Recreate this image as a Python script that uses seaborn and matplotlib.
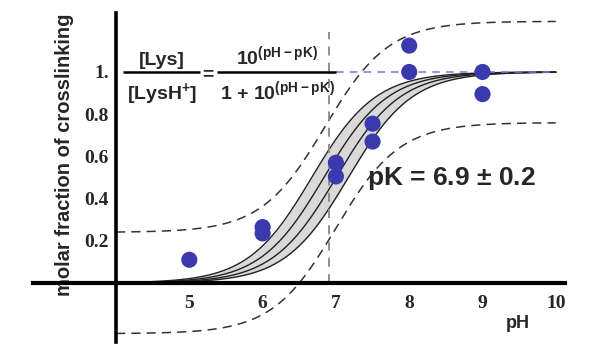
import numpy as np
import pandas as pd
import seaborn as sns
import matplotlib.pyplot as plt

# measured crosslinking fractions
ph_points = [5, 6, 6, 7, 7, 7.5, 7.5, 8, 8, 9, 9]
fraction_points = [0.11, 0.265, 0.235, 0.57, 0.505, 0.755, 0.67, 1.125, 1.0, 1.0, 0.895]

# fit: pK = 6.9 +/- 0.2, prediction band +/- 0.24
pk_fit = 6.92
pk_band = 0.25
pk_upper_pred = 6.85
pk_lower_pred = 7.0
pred_offset = 0.24

x_ticks = [5, 6, 7, 8, 9, 10]
y_ticks = [0.2, 0.4, 0.6, 0.8, 1.0]
y_tick_labels = ["0.2", "0.4", "0.6", "0.8", "1."]


def frac(ph, pk):
    r = 10 ** (np.asarray(ph) - pk)
    return r / (1 + r)


sns.set_style("white")
plt.rcParams["font.family"] = ["Liberation Sans", "DejaVu Sans"]
plt.rcParams["mathtext.fontset"] = "custom"
plt.rcParams["mathtext.rm"] = "Liberation Sans:bold"
plt.rcParams["mathtext.bf"] = "Liberation Sans:bold"

fig = plt.figure(figsize=(6, 3.5), dpi=100)
ax = fig.add_axes([0, 0, 1, 1])

ph_grid = np.linspace(4.0, 10.0, 400)
df = pd.DataFrame({"pH": ph_grid, "fit": frac(ph_grid, pk_fit)})

# confidence band of the fit
lo = frac(ph_grid, pk_fit + pk_band)
hi = frac(ph_grid, pk_fit - pk_band)
ax.fill_between(ph_grid, lo, hi, color="#d9d9d9", lw=0, zorder=1)
for pk in [pk_fit - pk_band, pk_fit - pk_band / 3, pk_fit + pk_band / 3, pk_fit + pk_band]:
    ax.plot(ph_grid, frac(ph_grid, pk), color="#222222", lw=1.0, zorder=2)

# prediction band (dashed)
ax.plot(ph_grid, frac(ph_grid, pk_upper_pred) + pred_offset, color="#333333",
        lw=1.1, ls=(0, (6, 4)), zorder=2)
ax.plot(ph_grid, frac(ph_grid, pk_lower_pred) - pred_offset, color="#333333",
        lw=1.1, ls=(0, (6, 4)), zorder=2)

# pK marker and plateau
ax.vlines(6.9, 0, 1.19, color="#888888", lw=1.3, ls=(0, (5, 4)), zorder=2)
ax.hlines(1.0, 7.0, 10.0, color="#7777dd", lw=1.1, ls=(0, (5, 4)), zorder=2)

sns.scatterplot(x=ph_points, y=fraction_points, ax=ax, color="#3a3aae",
                s=135, edgecolor="none", zorder=4)

# axes crossing at (4, 0)
ax.set_xlim(2.417, 10.603)
ax.set_ylim(-0.3175, 1.341)
for s in ["top", "right"]:
    ax.spines[s].set_visible(False)
ax.spines["left"].set_position(("data", 4))
ax.spines["bottom"].set_position(("data", 0))
ax.spines["left"].set_bounds(-0.28, 1.28)
ax.spines["bottom"].set_bounds(2.87, 10.13)
ax.spines["left"].set_linewidth(2.6)
ax.spines["bottom"].set_linewidth(3.0)
for s in ["left", "bottom"]:
    ax.spines[s].set_color("black")
    ax.spines[s].set_zorder(5)

ax.set_xticks(x_ticks)
ax.set_yticks(y_ticks)
ax.set_yticklabels(y_tick_labels)
ax.tick_params(direction="in", length=4, width=2, color="black")
ax.tick_params(axis="y", pad=5)
ax.tick_params(axis="x", pad=9)
for lab in ax.get_xticklabels() + ax.get_yticklabels():
    lab.set_fontfamily("Liberation Serif")
    lab.set_fontweight("bold")
    lab.set_fontsize(14)

ax.text(0.107, 0.557, "molar fraction of crosslinking", transform=fig.transFigure,
        rotation=90, ha="center", va="center", fontsize=14.5, fontweight="bold")
ax.text(518, 27, "pH", transform=None, ha="center", va="center",
        fontsize=13, fontweight="bold")
ax.text(0.7525, 0.49, r"pK = 6.9 $\pm$ 0.2", transform=fig.transFigure,
        ha="center", va="center", fontsize=19, fontweight="bold")

# equation
eq_kw = dict(transform=fig.transFigure, ha="center", fontsize=14, fontweight="bold")
ax.text(0.270, 0.814, "[Lys]", va="baseline", **eq_kw)
ax.text(0.270, 0.714, r"[LysH$^{+}$]", va="baseline", **eq_kw)
ax.text(0.347, 0.786, "=", va="center", **eq_kw)
ax.text(0.462, 0.814, r"10$^{(\mathrm{pH}-\mathrm{pK})}$", va="baseline", **eq_kw)
ax.text(0.462, 0.714, r"1 + 10$^{(\mathrm{pH}-\mathrm{pK})}$", va="baseline", **eq_kw)
ax.hlines(1.0, 4.10, 5.15, color="black", lw=1.8, zorder=3)
ax.hlines(1.0, 5.38, 7.0, color="black", lw=1.8, zorder=3)

fig.savefig("out.png", dpi=100)
